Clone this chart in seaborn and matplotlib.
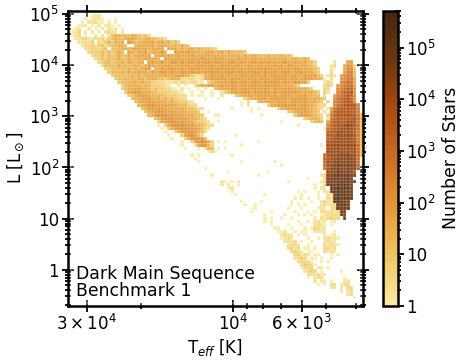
import numpy as np
import pandas as pd
import matplotlib
matplotlib.use("Agg")
import matplotlib.pyplot as plt
import seaborn as sns
from matplotlib.colors import LinearSegmentedColormap, LogNorm
from matplotlib.ticker import FixedLocator, FixedFormatter, NullFormatter, LogLocator

# histogram grid (log10 of the axis limits, 89 x 89 bins)
n_bins = 89
log_teff_hot, log_teff_cool = np.log10(34600), np.log10(3790)
log_lum_top, log_lum_bottom = 5.07, -0.71

# star count for each level character used in cell_runs
level_chars = "123456789abcdefgh"
level_counts = [1, 2, 4, 8, 20, 45, 90, 150, 250, 500, 1000, 2500, 6000, 15000, 35000, 80000, 160000]

# (row from the top, first column from the hot side, levels), '.' is an empty cell
cell_runs = [
    (1, 7, "122"), (2, 5, "1.2221...1"), (3, 4, "1.22311.1.1"), (4, 3, "122.1.2.221.1"),
    (5, 2, "12..2.1.2.212.1"), (6, 1, "123.2.2.1.2322.2"), (7, 1, "123.1..2.2.2566565665453"),
    (8, 2, "2234223342456556676556655443"), (9, 3, "22324.33454656.7655666756656454"),
    (10, 4, "2334345345566 5..56666756665565654"),
    (11, 5, "3344345.5556656766756666.666565665655544"),
    (12, 6, "34445454565.665667566675..7666766656665665655554"),
    (13, 7, "344545456556566766.667676676667666676666666665656655565556554"),
    (14, 8, "34545556556566676666.76667667676776676766667666666666666665665565"),
    (15, 9, "34554556566566.676676677676776767767766776676677676766667666666553"),
    (16, 10, "35555656566656776667766767767776777677767766776776767676776666654"),
    (17, 11, "44555556565677.66767776767777677767777776767767777767767677666654"),
    (18, 12, "45556565666657667767667767676777776777677677776777767776677666 54"),
    (19, 13, "4555556565666666766777664323667677676767767777767777767766777754"),
    (20, 14, "455656566566655456663233223667777767777677767776777767767777665"),
    (21, 15, "4555665655443322232332331 2.456667677677677767777767667766 4"),
    (22, 16, "456666565444332..2.1"), (22, 38, "35667767767776777777677777666654"),
    (23, 16, "45667666545443321.2.1"), (23, 39, "1.2..3"), (23, 44, "566767767777767776777777666654"),
    (24, 17, "467776665544443321"), (24, 37, "1..1"), (24, 43, "1..2"), (24, 47, "45676777677777676777777666654"),
    (25, 18, "456777665655444333"), (25, 37, "1.11"), (25, 43, "1..2"), (25, 50, "45667767777776777766776655"),
    (26, 19, "56677766656554433"), (26, 41, "1"), (26, 45, "1"), (26, 53, "4566777677777677777666654"),
    (27, 20, "567777676656554432"), (27, 52, "1.3"), (27, 57, "56677677767777766654"),
    (28, 21, "567787767666555433"), (28, 52, "1.2"), (28, 60, "4667777776776654"),
    (29, 22, "5678787766666555433"), (29, 49, "1.....1.1"), (29, 63, "4667777776654"),
    (30, 23, "56788777766665554"), (30, 42, "1"), (30, 55, "1"), (30, 66, "4567777654"),
    (31, 24, "56788877776666554"), (31, 44, "11"), (31, 58, "1"), (31, 68, "46777654"),
    (32, 26, "5678887777666543"), (32, 71, "456654"),
    (33, 27, "4678887776654432"), (33, 45, "1"), (33, 64, "1"), (33, 73, "4565"),
    (34, 27, "1.467888777665432"), (34, 43, "1"), (34, 69, "1"),
    (35, 28, "1.4678888776532"), (35, 77, "1"),
    (36, 29, "1..4678887653"), (37, 30, "1...4788753"), (37, 50, "1"),
    (38, 31, "1...4689875"), (39, 34, "1..4789864.1"), (39, 47, "1"), (39, 57, "1"),
    (40, 34, "1...367853"), (40, 52, "1"), (40, 76, "1"), (41, 35, "1...1.365.1"), (41, 47, "1"),
    (42, 42, "131"), (43, 37, "1.1"), (43, 49, "1"), (44, 38, "1"), (45, 39, "1"), (45, 52, "1"), (45, 62, "1"),
    (46, 64, "1"), (47, 41, "1"), (48, 48, "1"), (48, 60, "1"),
    # thin branch and giant cone
    (15, 80, "2"), (15, 84, "67"), (16, 79, "23"), (16, 83, "6883"), (17, 79, "21"), (17, 83, "6994"),
    (18, 79, "3"), (18, 83, "79a5"), (19, 78, "232"), (19, 82, "79aa5"), (20, 77, "1.3"), (20, 82, "89ab6"),
    (21, 77, "232"), (21, 82, "9abb6"), (22, 77, "343"), (22, 81, "79bbc7"), (23, 77, "33"), (23, 81, "8abcc8"),
    (24, 77, "42"), (24, 81, "9bccd8"), (25, 77, "3"), (25, 80, "7abcdc9"), (26, 77, "2"), (26, 80, "9bcddc9"),
    (27, 76, "3.3"), (27, 80, "abcddd9"), (28, 76, "33"), (28, 80, "9bcdddd9"), (29, 76, "3.2"), (29, 79, "7bcddddda"),
    (30, 75, "3.3"), (30, 79, "9cdddddda"), (31, 75, "33.3"), (31, 79, "acdddddda5"),
    (32, 75, "2..2"), (32, 79, "bcdddddeb6"), (33, 76, "2"), (33, 78, "7cddddeeea5"),
    (34, 78, "9cdddeeedb5"), (35, 78, "bcddeeeedb5"), (36, 78, "cddeeeeeda5"), (37, 78, "cddeeeeeda5"),
    (38, 78, "cdeeeeeeda5"), (39, 78, "deeeeeeeea5"), (40, 78, "deeeeeeeeb5"), (41, 78, "deeeeeeeeb5"),
    (42, 78, "eeeeeeeeeb5"), (43, 77, "bdeeefffeeb5"), (44, 77, "cdeefffffeb"), (45, 77, "ceefffffffb"),
    (46, 77, "bdefffffffb"), (47, 77, "bdffffffffc"), (48, 78, "effggfffd"), (49, 78, "efgggggff"),
    (50, 78, "fggggggf"), (51, 78, "fggghhggf"), (52, 78, "fgghhhgf"), (53, 79, "gghhhgg"), (54, 79, "ghhhhgg"),
    (55, 80, "ghhhgg"), (56, 80, "ghhhgg"), (57, 80, "ghhgf"), (58, 81, "ghhf"), (59, 81, "gggf"),
    (60, 82, "gg"), (61, 82, "gf"), (62, 83, "f"),
    # faint cells below the main branches
    (49, 43, "1"), (49, 57, "1"), (49, 76, "23"), (50, 72, "1"), (50, 77, "32"), (51, 46, "21"), (51, 49, "1"),
    (51, 51, "2"), (51, 66, "1"), (51, 76, "232"), (52, 46, "2"), (52, 48, "2"), (52, 51, "1"), (52, 74, "1"),
    (52, 77, "3"), (53, 48, "12"), (53, 74, "1"), (53, 76, "22"), (54, 49, "1"), (54, 69, "1"), (54, 71, "1"), (54, 75, "1"),
    (54, 77, "22"), (55, 50, "1"), (55, 59, "1"), (55, 70, "1"), (55, 75, "1"), (55, 78, "22"),
    (56, 68, "1"), (56, 70, "1"), (56, 72, "1"), (56, 75, "1"), (56, 78, "32"), (57, 52, "1"), (57, 58, "1"), (57, 67, "1"),
    (57, 73, "1"), (57, 76, "2322"), (58, 53, "1"), (58, 56, "1"), (58, 67, "1"), (58, 69, "1"), (58, 71, "1"), (58, 76, "23223"),
    (59, 56, "1"), (59, 66, "1"), (59, 70, "1"), (59, 75, "122.33"), (60, 55, "1"), (60, 61, "1"), (60, 68, "1"), (60, 72, "1"), (60, 74, "1"),
    (60, 76, "332323"), (61, 59, "1"), (61, 65, "1"), (61, 69, "1"), (61, 71, "1"), (61, 73, "1"), (61, 76, "123333"), (62, 59, "1"), (62, 61, "1"),
    (62, 64, "1"), (62, 67, "1"), (62, 74, "1"), (62, 76, "323433"), (63, 59, "1"), (63, 61, "1"), (63, 69, "1"), (63, 72, "1"), (63, 74, "2312"),
    (63, 79, "12"), (64, 61, "1"), (64, 66, "1"), (64, 70, "1"), (64, 74, "232"), (64, 77, "1"), (64, 79, "1"), (65, 62, "11"), (65, 67, "1"),
    (65, 71, "1"), (65, 73, "1"), (65, 74, "3322"), (66, 63, "112"), (66, 68, "1"), (66, 70, "11"), (66, 74, "2222"), (66, 80, "1"),
    (67, 64, "2322"), (67, 69, "1"), (67, 71, "1"), (67, 77, "2"), (67, 79, "12"), (68, 64, "1232"), (68, 72, "1"), (68, 75, "1"),
    (68, 77, "2322"), (68, 81, "1"), (69, 65, "2323"), (69, 70, "1"), (69, 73, "1"), (69, 77, "2322"), (70, 66, "2332"), (70, 72, "1"),
    (70, 77, "3232"), (70, 81, "1"), (71, 66, "3423"), (71, 71, "11"), (71, 74, "1"), (71, 77, "3323"), (72, 67, "3432"), (72, 72, "11"),
    (72, 77, "3232"), (73, 68, "3423"), (73, 72, "2"), (73, 74, "11"), (73, 79, "1"), (73, 81, "1"),
    (74, 68, "2343"), (74, 73, "11"), (74, 76, "1"), (74, 79, "1"), (75, 69, "3433"), (75, 73, "1"), (75, 76, "1"),
    (75, 78, "1"), (76, 70, "3443"), (76, 74, "1"), (77, 70, "1334"), (77, 75, "22"), (77, 78, "1"),
    (78, 71, "2343"), (78, 76, "1"), (78, 82, "1"), (79, 72, "3323"), (79, 76, "22"), (80, 72, "1.233"), (80, 83, "1"),
    (81, 74, "2.22"), (81, 79, "1"), (81, 83, "22"), (82, 75, "1"), (82, 77, "1"), (82, 79, "33"), (82, 82, "233"),
    (83, 79, "22"), (83, 82, "2"), (83, 84, "33"), (84, 82, "2"), (84, 84, "23"), (85, 84, "23"), (86, 86, "1"),
]

teff_major = [3e4, 1e4, 6e3]
teff_major_labels = [r"$3\times10^4$", r"$10^4$", r"$6\times10^3$"]
teff_minor = [2e4, 9e3, 8e3, 7e3, 5e3, 4e3]
lum_major = [1, 10, 1e2, 1e3, 1e4, 1e5]
lum_major_labels = ["1", "10", r"$10^2$", r"$10^3$", r"$10^4$", r"$10^5$"]
count_major = [1, 10, 1e2, 1e3, 1e4, 1e5]
count_major_labels = ["1", "10", r"$10^2$", r"$10^3$", r"$10^4$", r"$10^5$"]

cmap_colors = ["#fbeca6", "#efc864", "#e59a36", "#cd6e28", "#ae4b0f", "#6e3710", "#46280f"]

records = []
for row, col, levels in cell_runs:
    for i, ch in enumerate(levels.replace(" ", "")):
        if ch != ".":
            records.append((row, col + i, level_counts[level_chars.index(ch)]))
cells = pd.DataFrame(records, columns=["row", "col", "count"])
t_step = (log_teff_hot - log_teff_cool) / n_bins
l_step = (log_lum_top - log_lum_bottom) / n_bins
cells["teff"] = 10 ** (log_teff_hot - (cells["col"] + 0.5) * t_step)
cells["lum"] = 10 ** (log_lum_top - (cells["row"] + 0.5) * l_step)

sns.set_style("ticks", {"text.color": "black", "axes.labelcolor": "black", "axes.edgecolor": "black",
                        "xtick.color": "black", "ytick.color": "black"})
plt.rcParams["font.family"] = ["DejaVu Sans"]
W, H = 460, 360
fig = plt.figure(figsize=(W / 100, H / 100), dpi=100)
ax = fig.add_axes([67.5 / W, 1 - 306 / H, 295.5 / W, 295.5 / H])
cax = fig.add_axes([383.5 / W, 1 - 306 / H, 14.5 / W, 295.5 / H])

cmap = LinearSegmentedColormap.from_list("stars", cmap_colors)
sns.histplot(data=cells, x="teff", y="lum", weights="count", bins=n_bins, log_scale=(True, True),
             binrange=((log_teff_cool, log_teff_hot), (log_lum_bottom, log_lum_top)),
             cmap=cmap, ax=ax)
mesh = ax.collections[0]
mesh.set_norm(LogNorm(vmin=1, vmax=5.2e5))
# faint seams between the bins, like the reference
mesh.set_edgecolor((1, 1, 1, 0.12))
mesh.set_linewidth(0.15)
mesh.set_antialiased(True)

ax.set_xlim(34600, 3790)
ax.set_ylim(10 ** log_lum_bottom, 10 ** log_lum_top)
ax.xaxis.set_major_locator(FixedLocator(teff_major))
ax.xaxis.set_major_formatter(FixedFormatter(teff_major_labels))
ax.xaxis.set_minor_locator(FixedLocator(teff_minor))
ax.xaxis.set_minor_formatter(NullFormatter())
ax.yaxis.set_major_locator(FixedLocator(lum_major))
ax.yaxis.set_major_formatter(FixedFormatter(lum_major_labels))
ax.yaxis.set_minor_locator(LogLocator(base=10, subs=range(2, 10), numticks=12))
ax.yaxis.set_minor_formatter(NullFormatter())
ax.tick_params(which="major", direction="inout", length=8, width=1.3, top=True, right=True, labelsize=12, pad=2)
ax.tick_params(which="minor", direction="inout", length=5, width=1.3, top=True, right=True)
for spine in ax.spines.values():
    spine.set_visible(True)
    spine.set_linewidth(1.8)
ax.set_xlabel(r"T$_{eff}$ [K]", fontsize=12, labelpad=2)
ax.set_ylabel(r"L [L$_\odot$]", fontsize=12, labelpad=2)
ax.text(0.03, 0.02, "Dark Main Sequence\nBenchmark 1", transform=ax.transAxes, fontsize=12.4,
        va="bottom", ha="left", linespacing=0.95)

cbar = fig.colorbar(mesh, cax=cax)
cbar.solids.set_edgecolor("face")
cbar.set_ticks(count_major, labels=count_major_labels)
cbar.ax.yaxis.set_minor_locator(LogLocator(base=10, subs=range(2, 10), numticks=12))
cbar.ax.yaxis.set_minor_formatter(NullFormatter())
cbar.ax.tick_params(which="major", direction="inout", length=8, width=1.3, labelsize=12, pad=2)
cbar.ax.tick_params(which="minor", direction="inout", length=5, width=1.3)
cbar.outline.set_linewidth(1.8)
cbar.set_label("Number of Stars", fontsize=12.4, labelpad=4)

fig.savefig("out.png", dpi=100)
